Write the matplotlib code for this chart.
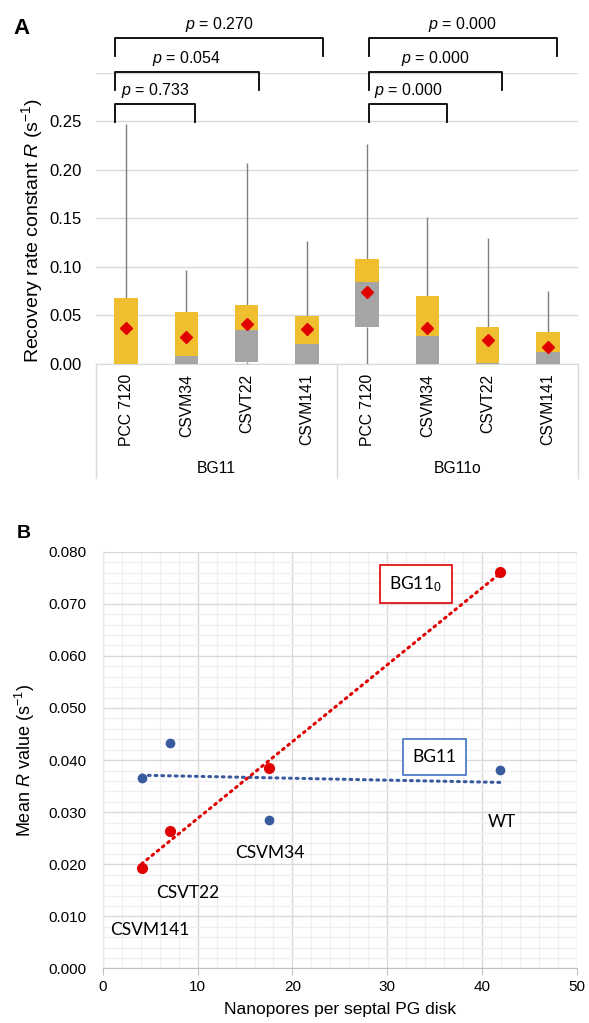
import numpy as np
import matplotlib.pyplot as plt
from matplotlib.lines import Line2D

plt.rcParams['font.family'] = ['Liberation Sans', 'DejaVu Sans']
plt.rcParams['mathtext.fontset'] = 'custom'
plt.rcParams['mathtext.rm'] = 'Liberation Sans'
plt.rcParams['mathtext.it'] = 'Liberation Sans:italic'

# ---- panel A data (box chart) ----
strains = ['PCC 7120', 'CSVM34', 'CSVT22', 'CSVM141']
groups = ['BG11', 'BG11o']
labels_a = strains + strains
r_min = [0.0, 0.0, 0.0, 0.0, 0.0, 0.0, 0.0, 0.0]
r_q1 = [0.0, 0.0, 0.0024, 0.0, 0.0385, 0.0, 0.0, 0.0]
r_med = [0.0, 0.0082, 0.0354, 0.0206, 0.084, 0.0286, 0.001, 0.012]
r_q3 = [0.0677, 0.0536, 0.0608, 0.0498, 0.108, 0.0698, 0.0385, 0.033]
r_max = [0.247, 0.0966, 0.2075, 0.127, 0.2265, 0.151, 0.1296, 0.0756]
r_mean = [0.0371, 0.0275, 0.0412, 0.0358, 0.0745, 0.0368, 0.0247, 0.0178]

# p-value brackets: (left x, right x, top y, text)
brackets = [(-0.18, 1.15, 0.268, '0.733'), (-0.18, 2.20, 0.301, '0.054'),
            (-0.18, 3.27, 0.336, '0.270'), (4.03, 5.33, 0.268, '0.000'),
            (4.03, 6.24, 0.301, '0.000'), (4.03, 7.15, 0.336, '0.000')]

# ---- panel B data ----
pores = [41.9, 17.5, 7.1, 4.1]
names_b = ['WT', 'CSVM34', 'CSVT22', 'CSVM141']
mean_bg11 = [0.0381, 0.0285, 0.0432, 0.0366]
mean_bg11o = [0.0762, 0.0385, 0.0263, 0.0193]

yellow = '#F0BF2F'
grey = '#A5A5A5'
red = '#E00000'
blue = '#3A5A9E'

fig = plt.figure(figsize=(5.89, 10.23), dpi=100)

# ================= A =================
ax = fig.add_axes([0.163, 0.6442, 0.8183, 0.2845])
x = np.arange(len(labels_a))
w = 0.39
q1 = np.array(r_q1); med = np.array(r_med); q3 = np.array(r_q3)
ax.vlines(x, q3, r_max, color='#7F7F7F', lw=1, zorder=2)
ax.vlines(x, r_min, q1, color='#7F7F7F', lw=1, zorder=2)
ax.bar(x, med - q1, w, bottom=q1, color=grey, zorder=3)
ax.bar(x, q3 - med, w, bottom=med, color=yellow, zorder=3)
ax.plot(x, r_mean, 'D', color=red, ms=6.5, zorder=4)

ax.set_xlim(-0.5, 7.5)
ax.set_ylim(0, 0.30)
ax.set_yticks(np.arange(0, 0.301, 0.05))
ax.set_yticklabels(['%.2f' % v for v in np.arange(0, 0.251, 0.05)] + [''])
ax.yaxis.grid(True, color='#D9D9D9', lw=1)
ax.set_axisbelow(True)
for s in ['top', 'right', 'left']:
    ax.spines[s].set_visible(False)
ax.spines['bottom'].set_color('#D9D9D9')
ax.tick_params(axis='y', length=0, labelsize=12, pad=10)
ax.set_xticks(x)
ax.set_xticklabels(labels_a, rotation=90, va='top', fontsize=11.3)
ax.tick_params(axis='x', length=0, pad=7)
ax.set_ylabel('Recovery rate constant $R$ (s$^{-1}$)', fontsize=14)
ax.yaxis.set_label_coords(-0.105, 0.46)

for xs in [-0.5, 3.5, 7.5]:
    ax.add_line(Line2D([xs, xs], [0, -0.392], transform=ax.get_xaxis_transform(),
                       color='#D9D9D9', lw=1, clip_on=False))
for i, g in enumerate(groups):
    ax.text(1.5 + 4 * i, -0.358, g, transform=ax.get_xaxis_transform(),
            ha='center', va='center', fontsize=11.3)

for xl, xr, yt, p in brackets:
    yb = yt - 0.0185
    ax.plot([xl, xl, xr, xr], [yb, yt, yt, yb], color='black', lw=1.3,
            clip_on=False, solid_joinstyle='round')
    ax.text((xl + xr) / 2, yt + 0.0135, '$p$ = ' + p,
            ha='center', va='center', fontsize=11.5)

fig.text(21 / 589, 1 - 29 / 1023, 'A', fontsize=16, fontweight='bold',
         ha='center', va='center')

# ================= B =================
bx = fig.add_axes([0.1744, 0.0533, 0.8053, 0.4074])
bx.set_xlim(0, 50)
bx.set_ylim(0, 0.080)
bx.set_xticks(np.arange(0, 51, 10))
bx.set_yticks(np.arange(0, 0.0801, 0.010))
bx.set_yticklabels(['%.3f' % v for v in np.arange(0, 0.0801, 0.010)])
bx.set_xticks(np.arange(0, 51, 2), minor=True)
bx.set_yticks(np.arange(0, 0.0801, 0.002), minor=True)
bx.grid(True, which='major', color='#D9D9D9', lw=1)
bx.grid(True, which='minor', color='#F0F0F0', lw=1)
bx.set_axisbelow(True)
for s in ['top', 'right']:
    bx.spines[s].set_visible(False)
bx.spines['left'].set_color('#E6E6E6')
bx.spines['bottom'].set_color('#BFBFBF')
bx.tick_params(axis='x', which='major', length=5, color='#BFBFBF', labelsize=11, pad=3)
bx.tick_params(axis='y', which='major', length=0, labelsize=11, pad=12)
bx.tick_params(which='minor', length=0)

px = np.array(pores)
for vals, c, ms in [(mean_bg11, blue, 6), (mean_bg11o, red, 7)]:
    k, b0 = np.polyfit(px, vals, 1)
    xx = np.array([px.min(), px.max()])
    bx.plot(xx, k * xx + b0, color=c, lw=2.2, ls=(0, (0.6, 1.6)),
            dash_capstyle='round', zorder=3)
    bx.plot(px, vals, 'o', color=c, ms=ms, zorder=4)

lab_pos = [(42.1, 0.0281), (17.65, 0.0222), (9.0, 0.0145), (5.0, 0.0073)]
for n, (lx, ly) in zip(names_b, lab_pos):
    bx.text(lx, ly, n, ha='center', va='center', fontsize=12.5, family='Lato')

bx.text(33.0, 0.0738, 'BG11$_0$', ha='center', va='center', fontsize=12.5,
        family='Lato', bbox=dict(boxstyle='square,pad=0.55', fc='white',
                                 ec='#E00000', lw=1.2))
bx.text(35.0, 0.0406, 'BG11', ha='center', va='center', fontsize=12.5,
        family='Lato', bbox=dict(boxstyle='square,pad=0.55', fc='white',
                                 ec='#4472C4', lw=1.2))

bx.set_xlabel('Nanopores per septal PG disk', fontsize=12.5, labelpad=6)
bx.set_ylabel('Mean $R$ value (s$^{-1}$)', fontsize=13, labelpad=8)

fig.text(24 / 589, 1 - 533 / 1023, 'B', fontsize=14, fontweight='bold',
         ha='center', va='center')

fig.savefig('out.png', dpi=100)
